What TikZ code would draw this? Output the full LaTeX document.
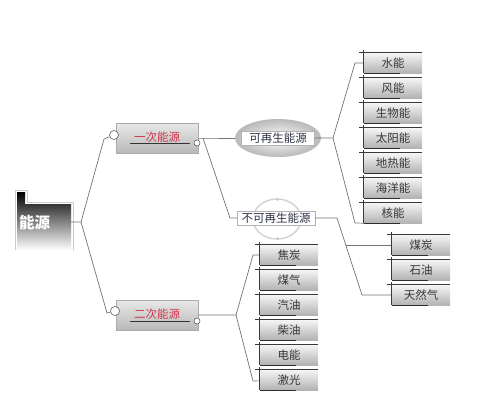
\documentclass[tikz,border=0pt]{standalone}
\usepackage{fontspec}
\setmainfont{Noto Sans CJK SC}
\usetikzlibrary{shapes.geometric}
\definecolor{linkgray}{RGB}{115,115,115}
\definecolor{leafdark}{RGB}{55,55,55}
\definecolor{headred}{RGB}{205,55,75}
\definecolor{labelink}{RGB}{45,50,70}

\begin{document}
\begin{tikzpicture}[x=1pt,y=-1pt,
    link/.style={draw=linkgray, line width=0.7pt},
    leaf/.style={minimum width=58pt, minimum height=20pt, inner sep=0pt,
      top color=gray!8, bottom color=gray!60, text=leafdark,
      font=\fontsize{11.5}{12}\selectfont},
    leafline/.style={draw=gray!45!black, line width=1.1pt},
    headbox/.style={draw=gray!65, minimum width=82pt, minimum height=30pt,
      top color=gray!18, bottom color=gray!55, text=headred,
      text height=10pt, text depth=4pt, font=\fontsize{11.5}{13}\selectfont},
    knob/.style={circle, draw=gray!60!black, fill=white, inner sep=0pt, line width=0.5pt},
    tagbox/.style={draw=gray!60, fill=white, inner sep=0pt, text=labelink,
      font=\fontsize{11.5}{13}\selectfont}]
  \useasboundingbox (0,0) rectangle (500,404);

  % root
  \path[top color=black, middle color=black!80, bottom color=white]
    (17,192) -- (25,192) -- (25,204) -- (71,204) -- (71,250) -- (17,250) -- cycle;
  \draw[gray!40, line width=0.6pt]
    (15,250) -- (15,190) -- (27,190) -- (27,202) -- (73,202) -- (73,250);
  \node[text=white, font=\fontsize{15.5}{16}\selectfont\bfseries, anchor=west, inner sep=0pt]
    (root) at (19,223) {能源};
  \coordinate (rootout) at (71,222);
  \coordinate (split) at (81,222);

  % first level
  \node[headbox] (one) at (157,138) {一次能源};
  \node[headbox] (two) at (157,315) {二次能源};
  \draw[gray!40!black, line width=1pt] (130,143.5) -- (190,143.5);
  \draw[gray!40!black, line width=1pt] (130,321.5) -- (190,321.5);
  \node[knob, minimum size=9pt] (k1) at (114,135) {};
  \node[knob, minimum size=6pt] (k1r) at (197,143) {};
  \node[knob, minimum size=9pt] (k2) at (115,311) {};
  \node[knob, minimum size=6pt] (k2r) at (197,321) {};

  \draw[link] (rootout) -- (split) -- (104,139) -- (k1);
  \draw[link] (split) -- (107,313) -- (k2);

  % renewable / non-renewable
  \node[ellipse, minimum width=86pt, minimum height=38pt,
    inner color=white, outer color=gray!55] (renewE) at (278,138) {};
  \node[tagbox, minimum width=73pt, minimum height=14pt] (renew) at (278,138) {可再生能源};
  \draw[gray!45, line width=0.8pt] (renewE.north) -- ++(0,3);
  \draw[gray!45, line width=0.8pt] (renewE.south) -- ++(0,-3);

  \node[ellipse, draw=gray!35, line width=1.4pt, minimum width=48pt,
    minimum height=40pt] (nonrenewE) at (277,219) {};
  \node[tagbox, minimum width=78pt, minimum height=14pt] (nonrenew) at (276,218) {不可再生能源};
  \draw[gray!50, line width=0.8pt] (nonrenewE.north) -- ++(0,3);
  \draw[gray!50, line width=0.8pt] (nonrenewE.south) -- ++(0,-3);

  \coordinate (j1) at (203,138);
  \draw[link] (one.east) -- (j1) -- (renewE.west);
  \draw[link] (j1) -- (230,218) -- (nonrenew.west);

  % renewable leaves
  \node[leaf] (water) at (393,63) {水能};
  \node[leaf] (wind) at (393,88) {风能};
  \node[leaf] (bio) at (393,113) {生物能};
  \node[leaf] (solar) at (393,138) {太阳能};
  \node[leaf] (geo) at (393,163) {地热能};
  \node[leaf] (ocean) at (393,188) {海洋能};
  \node[leaf] (nuclear) at (393,213) {核能};
  \coordinate (j2) at (333,138);
  \draw[link] (renew.east) -- (j2) -- (355,63) -- (water);
  \draw[link] (j2) -- (355,223) -- (nuclear.south west);

  % fossil leaves
  \node[leaf] (coal) at (421,245) {煤炭};
  \node[leaf] (oil) at (421,270) {石油};
  \node[leaf] (gas) at (421,295) {天然气};
  \coordinate (j3) at (337,218);
  \coordinate (j4) at (346,245);
  \draw[link] (nonrenew.east) -- (j3) -- (362,295) -- (gas);
  \draw[link] (j4) -- (coal);

  % secondary leaves
  \node[leaf] (coke) at (289,255) {焦炭};
  \node[leaf] (coalgas) at (289,280) {煤气};
  \node[leaf] (petrol) at (289,305) {汽油};
  \node[leaf] (diesel) at (289,330) {柴油};
  \node[leaf] (power) at (289,355) {电能};
  \node[leaf] (laser) at (289,380) {激光};
  \coordinate (j5) at (236,315);
  \draw[link] (two.east) -- (j5) -- (253,255) -- (coke);
  \draw[link] (j5) -- (253,381) -- (laser);

  \foreach \n in {water,wind,bio,solar,geo,ocean,nuclear,coal,oil,gas,
      coke,coalgas,petrol,diesel,power,laser} {
    \draw[leafline] ([xshift=-5pt]\n.north west) -- (\n.north east);
    \draw[leafline, line width=0.7pt] ([yshift=3pt]\n.north west) -- (\n.south west);
    \draw[gray!35!black, line width=0.6pt] (\n.south west) -- ([xshift=36pt]\n.south west);
  }
\end{tikzpicture}
\end{document}
